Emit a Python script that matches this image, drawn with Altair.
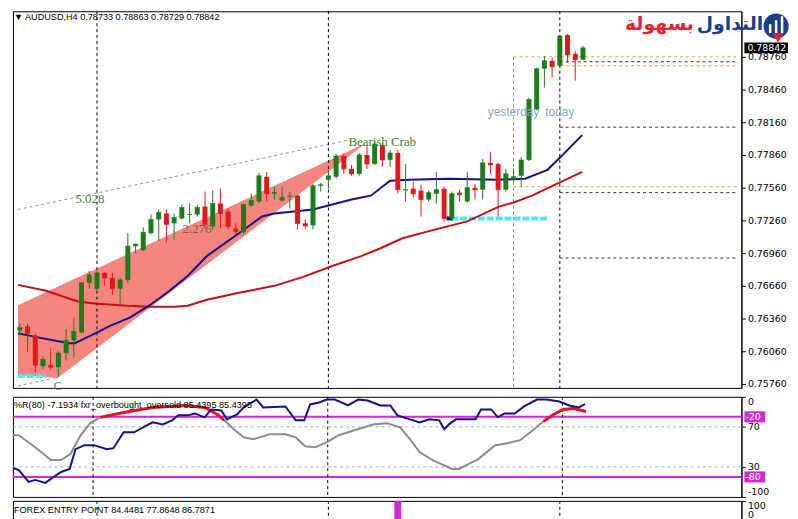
import altair as alt
import pandas as pd

# ---------------- AUDUSD H4 candles ----------------
opens = [0.76251, 0.76287, 0.76205, 0.75924, 0.75933, 0.75915, 0.76042, 0.76160, 0.76233, 0.76687,
         0.76633, 0.76778, 0.76733, 0.76633, 0.76715, 0.77024, 0.76987, 0.77142, 0.77269, 0.77324,
         0.77233, 0.77278, 0.77310, 0.77315, 0.77387, 0.77205, 0.77415, 0.77342, 0.77187, 0.77151,
         0.77396, 0.77433, 0.77660, 0.77505, 0.77442, 0.77478, 0.77487, 0.77233, 0.77215, 0.77578,
         0.77633, 0.77660, 0.77851, 0.77733, 0.77687, 0.77860, 0.77778, 0.77951, 0.77815, 0.77878,
         0.77537, 0.77551, 0.77533, 0.77451, 0.77505, 0.77551, 0.77278, 0.77515, 0.77433, 0.77560,
         0.77542, 0.77787, 0.77778, 0.77542, 0.77633, 0.77669, 0.77815, 0.78278, 0.78651, 0.78724,
         0.78678, 0.78960, 0.78787, 0.78733]
highs = [0.76315, 0.76315, 0.76224, 0.76015, 0.76087, 0.76060, 0.76260, 0.76369, 0.76696, 0.76796,
         0.76796, 0.76787, 0.76778, 0.76733, 0.77142, 0.77051, 0.77196, 0.77315, 0.77360, 0.77360,
         0.77324, 0.77405, 0.77415, 0.77405, 0.77524, 0.77533, 0.77551, 0.77369, 0.77233, 0.77415,
         0.77505, 0.77696, 0.77705, 0.77569, 0.77569, 0.77524, 0.77496, 0.77269, 0.77596, 0.77605,
         0.77724, 0.77869, 0.77869, 0.77769, 0.77878, 0.77951, 0.77996, 0.77978, 0.77905, 0.77905,
         0.77778, 0.77615, 0.77587, 0.77533, 0.77705, 0.77569, 0.77524, 0.77542, 0.77705, 0.77596,
         0.77824, 0.77887, 0.77787, 0.77733, 0.77733, 0.77842, 0.78387, 0.78660, 0.78769, 0.78751,
         0.78960, 0.78969, 0.78815, 0.78863]
lows = [0.76205, 0.76051, 0.75869, 0.75896, 0.75887, 0.75824, 0.75978, 0.76005, 0.76224, 0.76633,
        0.76615, 0.76660, 0.76578, 0.76496, 0.76687, 0.76960, 0.76978, 0.77133, 0.77069, 0.77060,
        0.77078, 0.77269, 0.77233, 0.77296, 0.77187, 0.77178, 0.77187, 0.77178, 0.77133, 0.77133,
        0.77387, 0.77415, 0.77433, 0.77451, 0.77433, 0.77369, 0.77178, 0.77187, 0.77178, 0.77524,
        0.77551, 0.77642, 0.77687, 0.77669, 0.77669, 0.77733, 0.77769, 0.77751, 0.77751, 0.77505,
        0.77433, 0.77469, 0.77296, 0.77433, 0.77415, 0.77251, 0.77260, 0.77433, 0.77424, 0.77451,
        0.77451, 0.77687, 0.77296, 0.77524, 0.77615, 0.77569, 0.77805, 0.78269, 0.78478, 0.78569,
        0.78660, 0.78705, 0.78542, 0.78729]
closes = [0.76278, 0.76224, 0.75933, 0.75987, 0.75915, 0.76042, 0.76160, 0.76242, 0.76687, 0.76760,
          0.76778, 0.76733, 0.76633, 0.76715, 0.77024, 0.77042, 0.77151, 0.77269, 0.77333, 0.77224,
          0.77287, 0.77378, 0.77315, 0.77378, 0.77224, 0.77415, 0.77324, 0.77205, 0.77160, 0.77405,
          0.77442, 0.77669, 0.77505, 0.77515, 0.77469, 0.77483, 0.77233, 0.77210, 0.77578, 0.77587,
          0.77669, 0.77851, 0.77733, 0.77687, 0.77860, 0.77778, 0.77960, 0.77815, 0.77878, 0.77542,
          0.77542, 0.77505, 0.77451, 0.77515, 0.77542, 0.77278, 0.77505, 0.77496, 0.77560, 0.77542,
          0.77787, 0.77769, 0.77542, 0.77687, 0.77660, 0.77815, 0.78369, 0.78651, 0.78724, 0.78669,
          0.78951, 0.78778, 0.78733, 0.78842]

# moving averages (bar position, price)
ma_fast_i = [-0.25, 3, 6.4, 7.1, 9.25, 11.75, 14.25, 16.75, 19.25, 21.75, 24.25, 28.4, 31.4, 33,
             38, 43, 45.5, 48, 50.5, 55.5, 62, 65.5, 68.4, 70.1, 72.9]
ma_fast_v = [0.76224, 0.76178, 0.76133, 0.76133, 0.76205, 0.76296, 0.76369, 0.76478, 0.76605, 0.76751,
             0.76933, 0.77142, 0.77296, 0.77324, 0.77360, 0.77451, 0.77487, 0.77624, 0.77633, 0.77642,
             0.77633, 0.77642, 0.77724, 0.77842, 0.78042]
ma_slow_i = [-0.25, 3.4, 7.6, 10.1, 13.9, 16.9, 20.1, 21.75, 24.25, 28.4, 33, 36.75, 40.5, 44.25,
             46.75, 49.6, 53.9, 58, 62.1, 64, 66.4, 69.6, 72.9]
ma_slow_v = [0.76669, 0.76615, 0.76515, 0.76496, 0.76478, 0.76469, 0.76469, 0.76478, 0.76533, 0.76596,
             0.76660, 0.76742, 0.76842, 0.76933, 0.77005, 0.77096, 0.77178, 0.77251, 0.77387, 0.77424,
             0.77487, 0.77596, 0.77705]

# harmonic pattern (Bearish Crab) shading and guide lines
crab_i = [-0.25, 4.9, 44.9]
crab_hi = [0.76483, 0.76652, 0.77969]
crab_lo = [0.75842, 0.75815, 0.77969]
guide_i = [-0.25, 42.6]
guide_v = [0.77360, 0.77996]
cguide_i = [-0.25, 4.5]
cguide_v = [0.75742, 0.75815]

# horizontal levels on the right (price, start bar, colour)
level_price = [0.78760, 0.78715, 0.78678, 0.78115, 0.77569, 0.77515, 0.76915]
level_start = [64, 70, 70, 70, 64, 70, 70]
level_color = ["#e8a040", "#333333", "#e8a040", "#333333", "#e8a040", "#333333", "#333333"]

# cyan support marks
cyan_price = [0.77278, 0.75833]
cyan_from = [55.9, -0.25]
cyan_to = [68.4, 3.4]

separators = [10, 40, 70]
yesterday_bar = 64

price_ticks = [0.75760, 0.76060, 0.76360, 0.76660, 0.76960, 0.77260,
               0.77560, 0.77860, 0.78160, 0.78460, 0.78760]

# Williams %R (navy) and overbought/oversold oscillator (grey / red)
wpr_i = [-0.25, 0.5, 1.75, 2.6, 3.9, 4.6, 5.9, 7, 7.75, 8.9, 10.1, 11.75, 12.6, 13.9, 15.25, 16.4,
         17.6, 18.9, 20.1, 20.9, 22.1, 23, 24.25, 25.1, 26.4, 27.1, 28.4, 29.25, 30.9, 31.75, 34.6,
         35.9, 37, 37.75, 38.9, 39.9, 40.9, 42.6, 43.9, 45.1, 46.75, 48, 48.9, 50.5, 51.75, 53,
         54.25, 54.9, 55.5, 56.4, 58.9, 59.6, 60.9, 61.75, 62.6, 63.9, 65.1, 66.75, 68, 69.6,
         70.9, 72.1, 72.9]
wpr_v = [-71.1, -73.1, -85.0, -83.0, -86.0, -82.0, -75.1, -72.1, -52.3, -48.3, -48.3, -52.3, -51.3,
         -35.4, -35.4, -30.4, -25.5, -27.5, -23.5, -18.5, -18.5, -16.6, -20.5, -12.6, -13.6, -22.5,
         -17.6, -10.6, -2.7, -10.6, -9.6, -23.5, -23.5, -7.6, -5.7, -2.7, -2.7, -8.6, -2.7, -3.7,
         -8.6, -8.6, -18.5, -22.5, -25.5, -22.5, -23.5, -32.4, -27.5, -22.5, -22.5, -12.6, -12.6,
         -20.5, -16.6, -16.6, -9.6, -2.7, -2.7, -4.7, -8.6, -10.6, -7.2]
osc_i = [-0.25, 0.5, 2.6, 4.6, 5.9, 7.1, 8.4, 9.6, 10.9, 13.9, 17.6, 21.75, 24.25, 25.9, 26.75,
         28, 29.25, 30.5, 32.6, 34.6, 35.9, 37.1, 38.4, 39.9, 41.4, 43.4, 45.9, 47.6, 49.25, 50.5,
         51.75, 53.4, 55.9, 56.75, 59.25, 61.4, 63, 64.6, 65.9, 67.6, 68.9, 70.1, 71.4, 73]
osc_v = [-38.4, -38.4, -50.3, -63.2, -63.2, -57.2, -38.4, -26.5, -20.5, -15.6, -10.6, -8.6, -10.6,
         -17.6, -23.5, -32.4, -40.4, -42.3, -37.4, -37.4, -40.4, -49.3, -50.3, -45.3, -38.4, -33.4,
         -27.5, -26.5, -30.4, -42.3, -55.2, -63.2, -72.1, -72.1, -62.2, -48.3, -46.3, -43.3, -35.4,
         -24.5, -17.6, -12.6, -11.6, -14.6]

# Forex Entry Point signal bars
fep_i = [49]
fep_v = [100]

TITLE_MAIN = "\u25BC AUDUSD,H4  0.78733 0.78863 0.78729 0.78842"
TITLE_WPR = "%R(80) -7.1934  fxr_overbought_oversold 85.4395 85.4395"
TITLE_FEP = "FOREX ENTRY POINT 84.4481 77.8648 86.7871"

# ---------------- styling ----------------
GREEN, RED, NAVY, MARED = "#1c7c1c", "#e2161c", "#12128c", "#c01212"
PINK, CYAN, MAGENTA = "#f5857d", "#58e6ee", "#d22ad2"
W, H_MAIN, H_R, H_F = 735, 380, 101, 19
LBL_FONT = "DejaVu Sans"
TXT_FONT = "Liberation Sans"

X_END = 92.9
xsc = alt.Scale(domain=[-0.25, X_END], nice=False, zero=False)
Y_LO, Y_HI = 0.75724, 0.79178
ysc = alt.Scale(domain=[Y_LO, Y_HI], nice=False, zero=False)


def X(f):
    return alt.X(f"{f}:Q", scale=xsc, axis=None)


yaxis = alt.Axis(orient="right", values=price_ticks, format=".5f", grid=False, title=None,
                 labelFont=LBL_FONT, labelFontSize=9.5, labelColor="#000", tickColor="#000",
                 tickSize=4, domainColor="#000", labelPadding=2)


def Y(f):
    return alt.Y(f"{f}:Q", scale=ysc, axis=yaxis)


# ---------------- main price panel ----------------
cdf = pd.DataFrame({"i": list(range(len(opens))), "open": opens, "high": highs,
                    "low": lows, "close": closes})
cdf["dir"] = ["up" if c >= o else "down" for o, c in zip(opens, closes)]
ccol = alt.Color("dir:N", scale=alt.Scale(domain=["up", "down"], range=[GREEN, RED]), legend=None)

crab = alt.Chart(pd.DataFrame({"i": crab_i, "hi": crab_hi, "lo": crab_lo})).mark_area(
    color=PINK, opacity=1).encode(x=X("i"), y=Y("hi"), y2="lo:Q")
guide = alt.Chart(pd.DataFrame({"i": guide_i, "v": guide_v})).mark_line(
    color="#777777", strokeWidth=0.8, strokeDash=[3, 3]).encode(x=X("i"), y=Y("v"))
cguide = alt.Chart(pd.DataFrame({"i": cguide_i, "v": cguide_v})).mark_line(
    color="#777777", strokeWidth=0.8, strokeDash=[3, 3]).encode(x=X("i"), y=Y("v"))

sep_df = pd.DataFrame({"i": separators})
seps = alt.Chart(sep_df).mark_rule(color="#000", strokeWidth=1, strokeDash=[3, 3]).encode(x=X("i"))
yday = alt.Chart(pd.DataFrame({"i": [yesterday_bar], "a": [0.78760], "b": [Y_LO]})).mark_rule(
    color="#888888", strokeWidth=1, strokeDash=[3, 3]).encode(x=X("i"), y=Y("a"), y2="b:Q")

lv = pd.DataFrame({"p": level_price, "s": level_start, "e": [X_END] * len(level_price), "c": level_color})
levels = alt.Chart(lv).mark_rule(strokeWidth=1, strokeDash=[3, 3]).encode(
    x=X("s"), x2="e:Q", y=Y("p"), color=alt.Color("c:N", scale=None))

cy = pd.DataFrame({"p": cyan_price, "a": cyan_from, "b": cyan_to})
cyan = alt.Chart(cy).mark_rule(color=CYAN, strokeWidth=4, strokeDash=[7, 2]).encode(
    x=X("a"), x2="b:Q", y=Y("p"))
marker = alt.Chart(pd.DataFrame({"a": [55.3], "b": [56.1], "p": [cyan_price[0]]})).mark_rule(
    color=NAVY, strokeWidth=4).encode(x=X("a"), x2="b:Q", y=Y("p"))

slow = alt.Chart(pd.DataFrame({"i": ma_slow_i, "v": ma_slow_v})).mark_line(
    color=MARED, strokeWidth=2).encode(x=X("i"), y=Y("v"))
fast = alt.Chart(pd.DataFrame({"i": ma_fast_i, "v": ma_fast_v})).mark_line(
    color=NAVY, strokeWidth=2).encode(x=X("i"), y=Y("v"))

cb = alt.Chart(cdf)
wick = cb.mark_rule(strokeWidth=1).encode(x=X("i"), y=Y("low"), y2="high:Q", color=ccol)
body = cb.mark_bar(size=5).encode(x=X("i"), y=Y("open"), y2="close:Q", color=ccol)
doji = cb.mark_tick(orient="horizontal", size=5, thickness=1).encode(x=X("i"), y=Y("close"), color=ccol)


def label(i, v, t, color, font, size, align="left"):
    return alt.Chart(pd.DataFrame({"i": [i], "v": [v], "t": [t]})).mark_text(
        align=align, baseline="middle", color=color, font=font, fontSize=size).encode(
        x=X("i"), y=Y("v"), text="t:N")


t_crab = label(42.6, 0.77978, "Bearish Crab", "#2f8a2f", "Liberation Serif", 13)
t_5028 = label(7.2, 0.77460, "5.028", "#3f7f3f", "Liberation Serif", 13)
t_2276 = label(21.1, 0.77178, "2.276", "#7a5a4a", "Liberation Serif", 13)
t_c = label(4.9, 0.75745, "C", "#4f7f5f", "Liberation Serif", 12, "center")
t_yd = label(64.0, 0.78251, "yesterday", "#86aabb", TXT_FONT, 12, "center")
t_td = label(70.0, 0.78251, "today", "#86aabb", TXT_FONT, 12, "center")


def pixel_text(t, x, y, color, font, size, weight="normal", align="left"):
    return alt.Chart(pd.DataFrame({"t": [t]})).mark_text(
        align=align, baseline="middle", font=font, fontSize=size, fontWeight=weight,
        color=color).encode(x=alt.value(x), y=alt.value(y), text="t:N")


title_main = pixel_text(TITLE_MAIN, 1, 6, "#000", TXT_FONT, 9.2)

last = closes[-1]
pbox = pd.DataFrame({"p": [last], "lo": [last - 0.00050], "hi": [last + 0.00050], "t": [f"{last:.5f}"]})
pb_rect = alt.Chart(pbox).mark_rect(color="#000").encode(
    x=alt.value(W + 3), x2=alt.value(W + 47), y=Y("lo"), y2="hi:Q")
pb_text = alt.Chart(pbox).mark_text(align="left", baseline="middle", color="white",
                                    font=LBL_FONT, fontSize=9.5).encode(
    x=alt.value(W + 6), y=Y("p"), text="t:N")

# logo (decoration, fixed pixel placement, kept inside the top edge)
logo_blue = pixel_text("التداول", 757, 13, "#1d3c8c", "DejaVu Sans", 19, "bold", "right")
logo_red = pixel_text("بسهولة", 687, 13, "#e3262e", "DejaVu Sans", 19, "bold", "right")
logo_icon = alt.Chart(pd.DataFrame({"k": [1]})).mark_point(
    shape="circle", filled=True, size=640, color="#1d3c8c", opacity=1).encode(
    x=alt.value(770), y=alt.value(15))
logo_bars = [alt.Chart(pd.DataFrame({"k": [1]})).mark_rule(color="white", strokeWidth=2.5).encode(
    x=alt.value(bx), y=alt.value(by), y2=alt.value(22)) for bx, by in [(764, 13), (770, 9), (776, 5)]]
logo_swoosh = alt.Chart(pd.DataFrame({"k": [1]})).mark_point(
    shape="triangle-down", filled=True, size=120, color="#e3262e", opacity=1).encode(
    x=alt.value(772), y=alt.value(27))

main = alt.layer(crab, guide, cguide, seps, yday, levels, cyan, marker, slow, fast,
                 wick, body, doji, t_crab, t_5028, t_2276, t_c, t_yd, t_td,
                 title_main, pb_rect, pb_text, logo_icon, *logo_bars, logo_swoosh,
                 logo_blue, logo_red).properties(width=W, height=H_MAIN)

# ---------------- %R panel ----------------
rsc = alt.Scale(domain=[-100, 0], nice=False, zero=False)
raxis = alt.Axis(orient="right", values=[0, -30, -70, -100], grid=False, title=None,
                 labelExpr="datum.value == 0 ? '0' : datum.value == -30 ? '70' : datum.value == -70 ? '30' : '-100'",
                 labelFlush=True, labelFont=LBL_FONT, labelFontSize=9.5, labelColor="#000",
                 tickColor="#000", tickSize=4, domainColor="#000", labelPadding=2)


def RY(f):
    return alt.Y(f"{f}:Q", scale=rsc, axis=raxis)


lines_mag = alt.Chart(pd.DataFrame({"v": [-20, -80]})).mark_rule(color=MAGENTA, strokeWidth=2).encode(y=RY("v"))
lines_dash = alt.Chart(pd.DataFrame({"v": [-30, -70]})).mark_rule(
    color="#b0b0b0", strokeWidth=1, strokeDash=[3, 3]).encode(y=RY("v"))
seps_r = alt.Chart(sep_df).mark_rule(color="#000", strokeWidth=1, strokeDash=[3, 3]).encode(x=X("i"))

odf = pd.DataFrame({"i": osc_i, "v": osc_v})
hot = [v >= -25 for v in osc_v]
seg, s = [], 0
for k, h in enumerate(hot):
    if h and (k == 0 or not hot[k - 1]):
        s += 1
    seg.append(s)
odf["seg"] = seg
hot_df = odf[hot]

grey = alt.Chart(odf).mark_line(color="#8c8c8c", strokeWidth=2).encode(x=X("i"), y=RY("v"))
redo = alt.Chart(hot_df).mark_line(color=RED, strokeWidth=3).encode(x=X("i"), y=RY("v"), detail="seg:N")
wpr = alt.Chart(pd.DataFrame({"i": wpr_i, "v": wpr_v})).mark_line(color=NAVY, strokeWidth=2).encode(
    x=X("i"), y=RY("v"))

boxes = pd.DataFrame({"v": [-20, -80], "lo": [-25.5, -85.5], "hi": [-14.5, -74.5], "t": ["-20", "-80"]})
box_r = alt.Chart(boxes).mark_rect(color=MAGENTA).encode(x=alt.value(W + 3), x2=alt.value(W + 24),
                                                          y=RY("lo"), y2="hi:Q")
box_t = alt.Chart(boxes).mark_text(align="left", baseline="middle", color="white", font=LBL_FONT,
                                   fontSize=9.5).encode(x=alt.value(W + 4), y=RY("v"), text="t:N")
title_r = pixel_text(TITLE_WPR, 1, 8, "#000", TXT_FONT, 9.2)

panel_r = alt.layer(lines_dash, lines_mag, seps_r, grey, redo, wpr, box_r, box_t, title_r).properties(
    width=W, height=H_R)

# ---------------- Forex Entry Point panel ----------------
fsc = alt.Scale(domain=[0, 100], nice=False, zero=False)
faxis = alt.Axis(orient="right", values=[0, 100], grid=False, title=None, labelFlush=True,
                 labelFont=LBL_FONT, labelFontSize=9.5, labelColor="#000", tickColor="#000",
                 tickSize=4, domainColor="#000", labelPadding=2)
fep = alt.Chart(pd.DataFrame({"i": fep_i, "v": fep_v, "z": [0] * len(fep_i)})).mark_bar(
    color=MAGENTA, size=7).encode(x=X("i"), y=alt.Y("z:Q", scale=fsc, axis=faxis), y2="v:Q")
seps_f = alt.Chart(sep_df).mark_rule(color="#000", strokeWidth=1, strokeDash=[3, 3]).encode(x=X("i"))
title_f = pixel_text(TITLE_FEP, 1, 9, "#000", TXT_FONT, 9.2)
panel_f = alt.layer(seps_f, fep, title_f).properties(width=W, height=H_F)

chart = alt.vconcat(main, panel_r, panel_f, spacing=2, padding=0).properties(
    background="white").configure(padding=0).configure_view(stroke="#000", strokeWidth=1)

chart.save("out.html", embed_options={"renderer": "svg", "actions": False})
